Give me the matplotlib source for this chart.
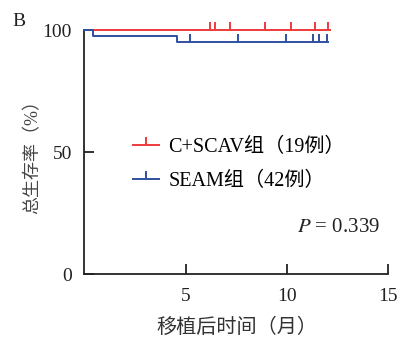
import matplotlib
matplotlib.use("Agg")
import matplotlib.pyplot as plt
from matplotlib.lines import Line2D
from matplotlib.markers import TICKUP

plt.rcParams['font.family'] = ['Liberation Serif', 'Noto Sans CJK SC']
plt.rcParams['mathtext.fontset'] = 'stix'

# Kaplan-Meier curves (time in months, survival in %)
red_t = [0, 12.1]
red_s = [100, 100]
red_cens_t = [6.2, 6.45, 7.2, 8.9, 10.2, 11.4, 12.0]
red_cens_s = [100, 100, 100, 100, 100, 100, 100]

blue_t = [0, 0.45, 4.55, 12.0]
blue_s = [100, 97.6, 95.2, 95.2]
blue_cens_t = [5.2, 7.6, 9.95, 11.3, 11.55, 11.95]
blue_cens_s = [95.2, 95.2, 95.2, 95.2, 95.2, 95.2]

red = '#ee3b3b'
blue = '#2f4f9f'

fig = plt.figure(figsize=(3.98, 3.38), dpi=100)
ax = fig.add_axes([0.212, 0.189, 0.764, 0.722])

ax.step(red_t, red_s, where='post', color=red, lw=1.4, clip_on=False, zorder=3)
ax.plot(red_cens_t, red_cens_s, ls='none', marker=TICKUP, ms=5.5, mew=1.4,
        color=red, clip_on=False, zorder=3)
ax.step(blue_t, blue_s, where='post', color=blue, lw=1.4, clip_on=False, zorder=3)
ax.plot(blue_cens_t, blue_cens_s, ls='none', marker=TICKUP, ms=5.5, mew=1.4,
        color=blue, clip_on=False, zorder=3)

ax.set_xlim(0, 15)
ax.set_ylim(0, 100)
ax.set_xticks([5, 10, 15])
ax.set_yticks([0, 50, 100])
for s in ['top', 'right']:
    ax.spines[s].set_visible(False)
for s in ['left', 'bottom']:
    ax.spines[s].set_linewidth(1.3)
    ax.spines[s].set_color('#222222')
ax.tick_params(axis='y', direction='in', length=7, width=1.3, labelsize=14,
               pad=9, colors='#222222')
ax.tick_params(axis='x', direction='in', length=7, width=1.3, labelsize=14,
               pad=10, colors='#222222')

ax.set_xlabel('移植后时间（月）', fontsize=14.5, color='#333333', labelpad=10)
ax.set_ylabel('总生存率（%）', fontsize=13, color='#444444', labelpad=1)

handles = [
    Line2D([], [], color=red, lw=1.4, marker=TICKUP, ms=5.5, mew=1.4),
    Line2D([], [], color=blue, lw=1.4, marker=TICKUP, ms=5.5, mew=1.4),
]
ax.legend(handles, ['C+SCAV组（19例）', 'SEAM组（42例）'], loc='center left',
          bbox_to_anchor=(0.1, 0.45), frameon=False, fontsize=14.5,
          handlelength=1.3, handletextpad=0.45, labelspacing=0.75)

ax.text(0.835, 0.19, r'$P$ = 0.339', transform=ax.transAxes, fontsize=15,
        ha='center', va='center', color='#222222')
fig.text(0.03, 0.935, 'B', fontsize=14, ha='left', va='center', color='#222222')

fig.savefig('out.png', dpi=100)
